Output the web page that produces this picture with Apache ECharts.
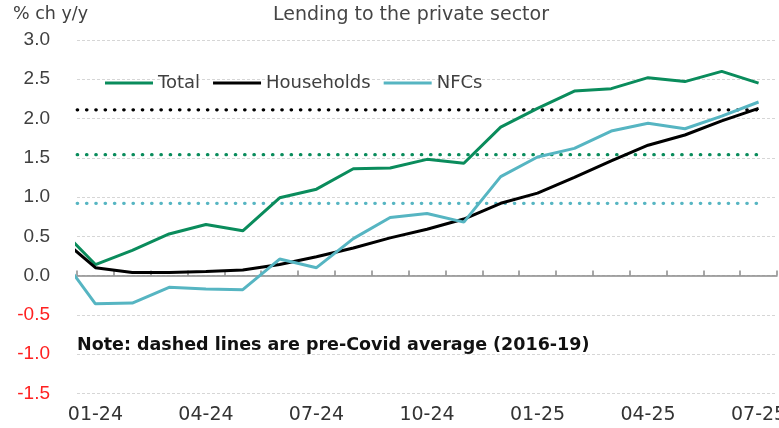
<!DOCTYPE html>
<html>
<head>
<meta charset="utf-8">
<script src="https://cdn.jsdelivr.net/npm/echarts@6/dist/echarts.min.js"></script>
<style>html,body{margin:0;padding:0;background:#fff}#c{width:779px;height:428px}</style>
</head>
<body>
<div id="c"></div>
<script>
// Month labels shown on the axis (Jan-24 .. Jul-25)
const categories = ['01-24','02-24','03-24','04-24','05-24','06-24','07-24','08-24','09-24','10-24','11-24','12-24',
                    '01-25','02-25','03-25','04-25','05-25','06-25','07-25'];
// Series values: first value is Dec-23 (partly visible at the left edge), then Jan-24 .. Jul-25
const totalVals      = [0.62, 0.14, 0.32, 0.53, 0.65, 0.57, 0.99, 1.10, 1.36, 1.37, 1.48, 1.43, 1.89, 2.13, 2.35, 2.38, 2.52, 2.47, 2.60, 2.45];
const householdVals  = [0.50, 0.10, 0.04, 0.04, 0.05, 0.07, 0.14, 0.24, 0.35, 0.48, 0.59, 0.72, 0.92, 1.05, 1.25, 1.46, 1.66, 1.79, 1.97, 2.13];
const nfcVals        = [0.28, -0.36, -0.35, -0.15, -0.17, -0.18, 0.21, 0.10, 0.47, 0.74, 0.79, 0.68, 1.26, 1.51, 1.62, 1.84, 1.94, 1.87, 2.03, 2.21];
// Pre-Covid averages (2016-19)
const avgTotal = 1.54;
const avgHouseholds = 2.11;
const avgNFCs = 0.92;
const seriesNames = ['Total', 'Households', 'NFCs'];
const yTicks = { min: -1.5, max: 3.0, step: 0.5 };

const GREEN = '#0a8c5c', BLACK = '#000000', TEAL = '#56b5c2';

function toPoints(vals) { return vals.map((v, i) => [i - 1, v]); }
function avgLine(v, n) { return [[-1, v], [n - 1, v]]; }

const chart = echarts.init(document.getElementById('c'), null, { renderer: 'canvas' });
const dotStyle = (c) => ({ color: c, width: 3.2, type: [0.5, 8.8], cap: 'round' });

chart.setOption({
  animation: false,
  grid: { left: 77, right: 2, top: 40, bottom: 34.7, containLabel: false, outerBoundsMode: 'none' },
  graphic: [
    { type: 'text', left: 13, top: 5, style: { text: '% ch y/y', font: '17.5px "DejaVu Sans"', fill: '#404040' } },
    { type: 'text', x: 411, y: 15, style: { text: 'Lending to the private sector', font: '19px "DejaVu Sans"', fill: '#454545', align: 'center', verticalAlign: 'middle' } },
    { type: 'text', x: 77, y: 345, z: 100, style: { text: 'Note: dashed lines are pre-Covid average (2016-19)', font: 'bold 17.5px "DejaVu Sans"', fill: '#111', verticalAlign: 'middle' } }
  ],
  legend: {
    left: 100, top: 69,
    icon: 'rect', itemWidth: 48, itemHeight: 3, itemGap: 13,
    textStyle: { fontFamily: 'DejaVu Sans', fontSize: 18, color: '#404040' },
    data: seriesNames
  },
  xAxis: [
    {
      type: 'category', data: categories, boundaryGap: true, position: 'bottom',
      axisLine: { show: false, onZero: false }, axisTick: { show: false },
      axisLabel: { interval: 2, fontFamily: 'DejaVu Sans', fontSize: 19, color: '#333', margin: 12, alignMaxLabel: 'center', alignMinLabel: 'center', hideOverlap: false },
      splitLine: { show: false }
    },
    {
      type: 'value', min: -0.5, max: 18.5, interval: 1,
      axisLine: { show: true, onZero: true, lineStyle: { color: '#8a8a8a', width: 1.5 } },
      axisTick: { show: true, length: 5, lineStyle: { color: '#8a8a8a', width: 1.5 } },
      axisLabel: { show: false }, splitLine: { show: false }
    }
  ],
  yAxis: {
    type: 'value', min: yTicks.min, max: yTicks.max, interval: yTicks.step,
    axisLine: { show: false, onZero: false }, axisTick: { show: false },
    axisLabel: {
      fontFamily: 'Liberation Sans', fontSize: 19, margin: 27,
      formatter: (v) => v.toFixed(1),
      color: (v) => (Number(v) < 0 ? '#ff2020' : '#404040')
    },
    splitLine: { show: true, lineStyle: { color: '#d6d6d6', width: 1, type: [3, 2] } }
  },
  series: [
    { name: 'avgH', type: 'line', xAxisIndex: 1, data: avgLine(avgHouseholds, categories.length), showSymbol: false, lineStyle: dotStyle(BLACK), itemStyle: { color: BLACK }, silent: true },
    { name: 'avgT', type: 'line', xAxisIndex: 1, data: avgLine(avgTotal, categories.length), showSymbol: false, lineStyle: dotStyle(GREEN), itemStyle: { color: GREEN }, silent: true },
    { name: 'avgN', type: 'line', xAxisIndex: 1, data: avgLine(avgNFCs, categories.length), showSymbol: false, lineStyle: dotStyle(TEAL), itemStyle: { color: TEAL }, silent: true },
    { name: seriesNames[0], type: 'line', xAxisIndex: 1, data: toPoints(totalVals), showSymbol: false, clip: true, lineStyle: { color: GREEN, width: 3 }, itemStyle: { color: GREEN } },
    { name: seriesNames[1], type: 'line', xAxisIndex: 1, data: toPoints(householdVals), showSymbol: false, clip: true, lineStyle: { color: BLACK, width: 3 }, itemStyle: { color: BLACK } },
    { name: seriesNames[2], type: 'line', xAxisIndex: 1, data: toPoints(nfcVals), showSymbol: false, clip: true, lineStyle: { color: TEAL, width: 3 }, itemStyle: { color: TEAL } }
  ]
});
</script>
</body>
</html>
